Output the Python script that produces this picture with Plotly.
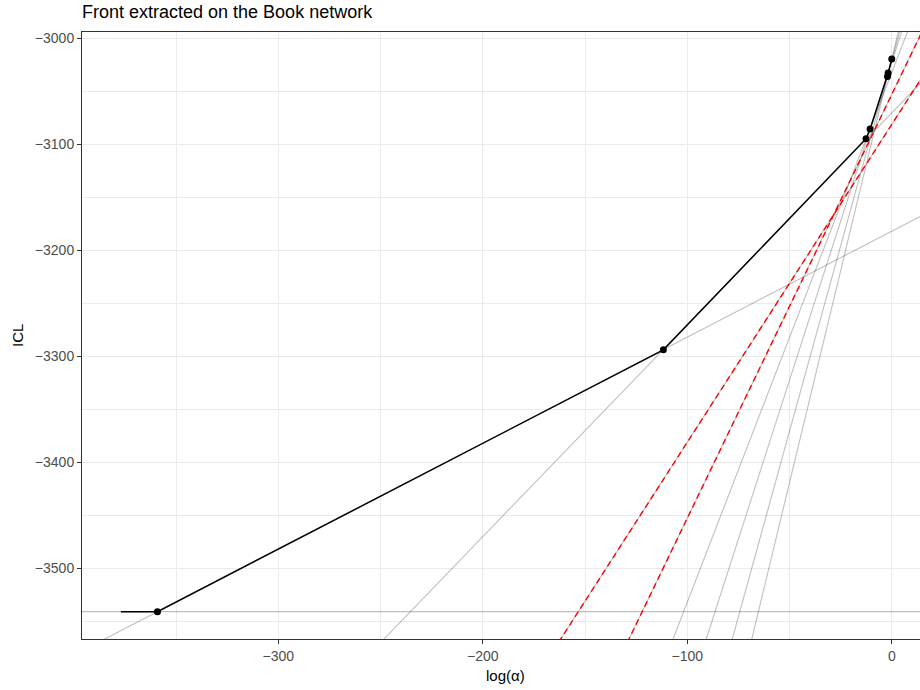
import plotly.graph_objects as go

# ---- data ----
# candidate solutions: ICL(log alpha) = intercept + slope * log(alpha)
line_slopes = [0, 1, 2, 3, 4, 5, 6, 7, 8]
line_intercepts = [-3541.1, -3182.0, -3070.3, -3081.2, -3052.9, -3032.2, -3022.6, -3020.8, -3019.3]
# dominated solutions (drawn red dashed)
dominated_slopes = [3, 4]
dominated_intercepts = [-3081.2, -3052.9]

# extracted front
front_x = [-377.0, -359.1, -111.7, -12.6, -10.6, -2.1, -1.8, 0.0]
front_y = [-3541.1, -3541.1, -3294.0, -3094.7, -3085.6, -3035.9, -3032.7, -3019.5]
point_x = front_x[1:]
point_y = front_y[1:]

x_ticks = [-300, -200, -100, 0]
y_ticks = [-3500, -3400, -3300, -3200, -3100, -3000]

X_RANGE = [-396.0, 13.8]
Y_RANGE = [-3566.9, -2994.0]

fig = go.Figure()

span = [X_RANGE[0] - 50, X_RANGE[1] + 50]
for s, b in zip(line_slopes, line_intercepts):
    fig.add_trace(go.Scatter(
        x=span, y=[b + s * v for v in span], mode="lines",
        line=dict(color="rgba(0,0,0,0.25)", width=1.1),
        hoverinfo="skip", showlegend=False))

for s, b in zip(dominated_slopes, dominated_intercepts):
    fig.add_trace(go.Scatter(
        x=span, y=[b + s * v for v in span], mode="lines",
        line=dict(color="#FF0000", width=1.4, dash="6px,4px"),
        hoverinfo="skip", showlegend=False))

fig.add_trace(go.Scatter(x=front_x, y=front_y, mode="lines",
                         line=dict(color="black", width=1.5),
                         showlegend=False))
fig.add_trace(go.Scatter(x=point_x, y=point_y, mode="markers",
                         marker=dict(color="black", size=7),
                         showlegend=False))

font_family = "Liberation Sans, Arial, Helvetica, sans-serif"

W, H = 920, 690
fig.update_layout(
    width=W, height=H, autosize=False,
    margin=dict(l=82, r=0, t=32, b=51),
    paper_bgcolor="white", plot_bgcolor="white",
    font=dict(family=font_family, color="#4D4D4D", size=12),
    title=dict(text="Front extracted on the Book network",
               xref="container", x=82 / W, xanchor="left",
               yref="container", y=1 - 12 / H, yanchor="middle",
               font=dict(size=18, color="black", family=font_family)),
    xaxis=dict(range=X_RANGE, tickvals=x_ticks, ticks="outside", ticklen=4,
               tickcolor="#333333", tickwidth=1,
               tickfont=dict(size=14, color="#4D4D4D"),
               showgrid=True, gridcolor="#EBEBEB", gridwidth=1.1,
               minor=dict(dtick=50, tick0=0, showgrid=True, gridcolor="#EBEBEB", gridwidth=0.55),
               showline=True, linecolor="#333333", linewidth=1, mirror=True,
               zeroline=False),
    yaxis=dict(range=Y_RANGE, tickvals=y_ticks, ticks="outside", ticklen=4,
               tickcolor="#333333", tickwidth=1,
               tickfont=dict(size=14, color="#4D4D4D"),
               showgrid=True, gridcolor="#EBEBEB", gridwidth=1.1,
               minor=dict(dtick=50, tick0=0, showgrid=True, gridcolor="#EBEBEB", gridwidth=0.55),
               showline=True, linecolor="#333333", linewidth=1, mirror=False,
               zeroline=False),
    annotations=[
        dict(text="log(α)", xref="paper", yref="paper",
             x=(506 - 82) / 838, y=(639 - 675) / 607,
             xanchor="center", yanchor="middle", showarrow=False,
             font=dict(size=15, color="black", family=font_family)),
        dict(text="ICL", xref="paper", yref="paper",
             x=(17 - 82) / 838, y=(639 - 336) / 607, textangle=-90,
             xanchor="center", yanchor="middle", showarrow=False,
             font=dict(size=15, color="black", family=font_family)),
    ],
)

# remove the browser's default 8px body margin so the figure fills the window
fig.write_html("out.html",
               config={"displayModeBar": False},
               post_script="document.body.style.margin='0';document.body.style.overflow='hidden';")
